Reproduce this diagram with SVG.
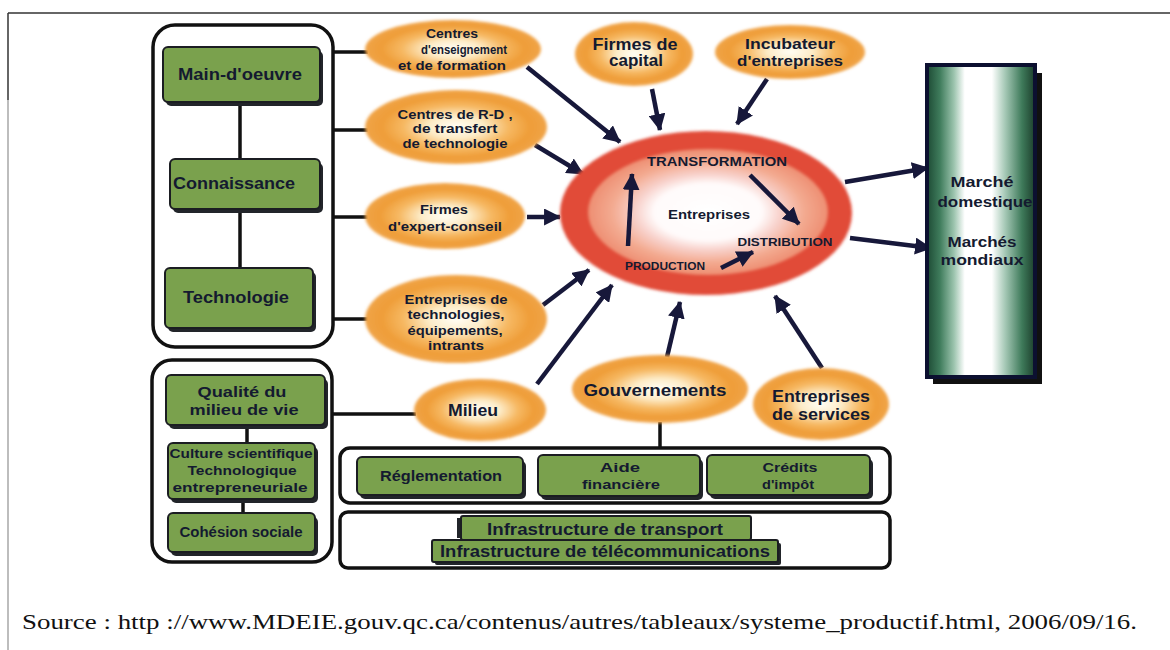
<svg xmlns="http://www.w3.org/2000/svg" width="1170" height="650" viewBox="0 0 1170 650">
<defs>
<style>
.t{font-family:"Liberation Sans",Arial,sans-serif;font-weight:bold;fill:#141a30;text-anchor:middle}
.gb{fill:#7aa14d;stroke:#1b1d22;stroke-width:2}
.sh{fill:#22252a}
.fr{fill:#fff;stroke:#111;stroke-width:3.5}
.ln{stroke:#111;stroke-width:3.5;fill:none}
.ar{stroke:#17183a;stroke-width:4.5;fill:none;marker-end:url(#ah)}
.ov{fill:url(#og);filter:url(#bl)}
</style>
<marker id="ah" viewBox="0 0 16 16" refX="15" refY="8" markerWidth="17" markerHeight="17" markerUnits="userSpaceOnUse" orient="auto">
<path d="M0,0 L16,8 L0,16 z" fill="#17183a"/>
</marker>
<radialGradient id="og" cx="50%" cy="50%" r="50%">
<stop offset="0" stop-color="#fffef6"/>
<stop offset="0.3" stop-color="#fdecc8"/>
<stop offset="0.58" stop-color="#f6b862"/>
<stop offset="0.82" stop-color="#ef9d38"/>
<stop offset="1" stop-color="#f0a448"/>
</radialGradient>
<radialGradient id="cg" cx="50%" cy="50%" r="50%">
<stop offset="0" stop-color="#ffffff"/>
<stop offset="0.45" stop-color="#fffafa"/>
<stop offset="0.6" stop-color="#f8d2cc"/>
<stop offset="0.8" stop-color="#f3aa90"/>
<stop offset="1" stop-color="#ee8e72"/>
</radialGradient>
<linearGradient id="mg" x1="0" y1="0" x2="1" y2="0">
<stop offset="0" stop-color="#1d4a34"/>
<stop offset="0.12" stop-color="#3f7c5c"/>
<stop offset="0.25" stop-color="#9cc4ae"/>
<stop offset="0.35" stop-color="#ffffff"/>
<stop offset="0.6" stop-color="#ffffff"/>
<stop offset="0.72" stop-color="#a8cab8"/>
<stop offset="0.88" stop-color="#3e7a5a"/>
<stop offset="1" stop-color="#1c3e2c"/>
</linearGradient>
<filter id="bl" x="-10%" y="-10%" width="120%" height="120%"><feGaussianBlur stdDeviation="1.5"/></filter>
</defs>

<g id="page-frame">
<line x1="8" y1="13" x2="1170" y2="13" stroke="#333" stroke-width="1.5"/>
<line x1="8" y1="13" x2="8" y2="100" stroke="#333" stroke-width="1.5"/>
<line x1="8" y1="100" x2="8" y2="650" stroke="#bdbdbd" stroke-width="2"/>
</g>

<g id="frames">
<rect class="fr" x="153" y="25" width="180" height="322" rx="22"/>
<rect class="fr" x="152" y="360" width="180" height="202" rx="20"/>
<rect class="fr" x="340" y="448" width="550" height="55" rx="10"/>
<rect class="fr" x="340" y="512" width="550" height="56" rx="8"/>
</g>

<g id="connectors">
<line class="ln" x1="240" y1="102" x2="240" y2="159"/>
<line class="ln" x1="240" y1="209" x2="240" y2="268"/>
<line class="ln" x1="247" y1="425" x2="247" y2="443"/>
<line class="ln" x1="243" y1="499" x2="243" y2="513"/>
<line class="ln" x1="333" y1="52" x2="368" y2="52"/>
<line class="ln" x1="333" y1="130" x2="368" y2="130"/>
<line class="ln" x1="333" y1="217" x2="368" y2="217"/>
<line class="ln" x1="333" y1="319" x2="368" y2="319"/>
<line class="ln" x1="332" y1="414" x2="416" y2="414" stroke-width="2.5"/>
<line class="ln" x1="660" y1="422" x2="660" y2="448"/>
<line class="ar" x1="527" y1="67" x2="620" y2="142"/>
<line class="ar" x1="652" y1="89" x2="660" y2="130"/>
<line class="ar" x1="767" y1="79" x2="737" y2="124"/>
<line class="ar" x1="535" y1="145" x2="583" y2="174"/>
<line class="ar" x1="527" y1="217" x2="560" y2="217"/>
<line class="ar" x1="543" y1="305" x2="589" y2="270"/>
<line class="ar" x1="537" y1="384" x2="612" y2="285"/>
<line class="ar" x1="667" y1="357" x2="680" y2="302"/>
<line class="ar" x1="822" y1="368" x2="775" y2="296"/>
<line class="ar" x1="845" y1="182" x2="928" y2="168"/>
<line class="ar" x1="850" y1="238" x2="931" y2="248"/>
</g>

<g id="left-boxes">
<g id="main-oeuvre"><rect class="sh" x="166" y="51" width="157" height="55" rx="5"/><rect class="gb" x="163" y="47" width="157" height="55" rx="5"/><text class="t" x="240" y="80" font-size="17" textLength="124" lengthAdjust="spacingAndGlyphs">Main-d'oeuvre</text></g>
<g id="connaissance"><rect class="sh" x="173" y="163" width="150" height="50" rx="5"/><rect class="gb" x="170" y="159" width="150" height="50" rx="5"/><text class="t" x="234" y="189" font-size="16" textLength="122" lengthAdjust="spacingAndGlyphs">Connaissance</text></g>
<g id="technologie"><rect class="sh" x="168" y="272" width="148" height="60" rx="5"/><rect class="gb" x="165" y="268" width="148" height="60" rx="5"/><text class="t" x="236" y="303" font-size="16" textLength="106" lengthAdjust="spacingAndGlyphs">Technologie</text></g>
<g id="qualite"><rect class="sh" x="169" y="379" width="159" height="50" rx="5"/><rect class="gb" x="166" y="375" width="159" height="50" rx="5"/><text class="t" x="242" y="397" font-size="15" textLength="89" lengthAdjust="spacingAndGlyphs">Qualité du</text><text class="t" x="244" y="415" font-size="15" textLength="109" lengthAdjust="spacingAndGlyphs">milieu de vie</text></g>
<g id="culture"><rect class="sh" x="171" y="447" width="147" height="56" rx="5"/><rect class="gb" x="168" y="443" width="147" height="56" rx="5"/><text class="t" x="241" y="458" font-size="13" textLength="143" lengthAdjust="spacingAndGlyphs">Culture scientifique</text><text class="t" x="242" y="475" font-size="13" textLength="109" lengthAdjust="spacingAndGlyphs">Technologique</text><text class="t" x="240" y="492" font-size="13" textLength="135" lengthAdjust="spacingAndGlyphs">entrepreneuriale</text></g>
<g id="cohesion"><rect class="sh" x="171" y="517" width="147" height="39" rx="5"/><rect class="gb" x="168" y="513" width="147" height="39" rx="5"/><text class="t" x="241" y="537" font-size="14" textLength="123" lengthAdjust="spacingAndGlyphs">Cohésion sociale</text></g>
</g>

<g id="bottom-boxes">
<g id="reglementation"><rect class="sh" x="360" y="461" width="166" height="38" rx="5"/><rect class="gb" x="357" y="457" width="166" height="38" rx="5"/><text class="t" x="441" y="481" font-size="14" textLength="122" lengthAdjust="spacingAndGlyphs">Réglementation</text></g>
<g id="aide"><rect class="sh" x="541" y="459" width="162" height="41" rx="5"/><rect class="gb" x="538" y="455" width="162" height="41" rx="5"/><text class="t" x="620" y="472" font-size="13" textLength="40" lengthAdjust="spacingAndGlyphs">Aide</text><text class="t" x="621" y="489" font-size="13" textLength="78" lengthAdjust="spacingAndGlyphs">financière</text></g>
<g id="credits"><rect class="sh" x="710" y="459" width="163" height="40" rx="5"/><rect class="gb" x="707" y="455" width="163" height="40" rx="5"/><text class="t" x="790" y="472" font-size="13" textLength="55" lengthAdjust="spacingAndGlyphs">Crédits</text><text class="t" x="788" y="489" font-size="13" textLength="52" lengthAdjust="spacingAndGlyphs">d'impôt</text></g>
<g id="infra-transport"><rect class="sh" x="457" y="518" width="6" height="20"/><rect class="gb" x="461" y="516" width="290" height="24" rx="2"/><text class="t" x="605" y="535" font-size="17" textLength="236" lengthAdjust="spacingAndGlyphs">Infrastructure de transport</text></g>
<g id="infra-telecom"><rect class="sh" x="435" y="543" width="346" height="22" rx="2"/><rect class="gb" x="432" y="540" width="346" height="22" rx="2"/><text class="t" x="605" y="557" font-size="17" textLength="330" lengthAdjust="spacingAndGlyphs">Infrastructure de télécommunications</text></g>
</g>

<g id="ellipses">
<g id="centres-enseignement"><ellipse class="ov" cx="453" cy="49" rx="88" ry="29"/><text class="t" x="452" y="38" font-size="12" textLength="52" lengthAdjust="spacingAndGlyphs">Centres</text><text class="t" x="464" y="54" font-size="12" textLength="86" lengthAdjust="spacingAndGlyphs">d'enseignement</text><text class="t" x="452" y="70" font-size="12" textLength="108" lengthAdjust="spacingAndGlyphs">et de formation</text></g>
<g id="firmes-capital"><ellipse class="ov" cx="634" cy="54" rx="59" ry="32"/><text class="t" x="635" y="50" font-size="16" textLength="85" lengthAdjust="spacingAndGlyphs">Firmes de</text><text class="t" x="636" y="66" font-size="16" textLength="54" lengthAdjust="spacingAndGlyphs">capital</text></g>
<g id="incubateur"><ellipse class="ov" cx="790" cy="52" rx="75" ry="27"/><text class="t" x="790" y="49" font-size="15" textLength="90" lengthAdjust="spacingAndGlyphs">Incubateur</text><text class="t" x="790" y="66" font-size="15" textLength="106" lengthAdjust="spacingAndGlyphs">d'entreprises</text></g>
<g id="centres-rd"><ellipse class="ov" cx="456" cy="127" rx="91" ry="37"/><text class="t" x="455" y="119" font-size="13" textLength="115" lengthAdjust="spacingAndGlyphs">Centres de R-D ,</text><text class="t" x="455" y="133" font-size="13" textLength="85" lengthAdjust="spacingAndGlyphs">de transfert</text><text class="t" x="455" y="148" font-size="13" textLength="105" lengthAdjust="spacingAndGlyphs">de technologie</text></g>
<g id="firmes-expert"><ellipse class="ov" cx="445" cy="216" rx="80" ry="33"/><text class="t" x="444" y="214" font-size="13" textLength="48" lengthAdjust="spacingAndGlyphs">Firmes</text><text class="t" x="445" y="231" font-size="13" textLength="114" lengthAdjust="spacingAndGlyphs">d'expert-conseil</text></g>
<g id="entreprises-technologies"><ellipse class="ov" cx="456" cy="319" rx="91" ry="44"/><text class="t" x="456" y="304" font-size="13" textLength="103" lengthAdjust="spacingAndGlyphs">Entreprises de</text><text class="t" x="456" y="319" font-size="13" textLength="97" lengthAdjust="spacingAndGlyphs">technologies,</text><text class="t" x="455" y="335" font-size="13" textLength="95" lengthAdjust="spacingAndGlyphs">équipements,</text><text class="t" x="456" y="350" font-size="13" textLength="56" lengthAdjust="spacingAndGlyphs">intrants</text></g>
<g id="milieu"><ellipse class="ov" cx="480" cy="410" rx="66" ry="31"/><text class="t" x="473" y="416" font-size="17" textLength="50" lengthAdjust="spacingAndGlyphs">Milieu</text></g>
<g id="gouvernements"><ellipse class="ov" cx="660" cy="389" rx="88" ry="34"/><text class="t" x="655" y="396" font-size="17" textLength="143" lengthAdjust="spacingAndGlyphs">Gouvernements</text></g>
<g id="entreprises-services"><ellipse class="ov" cx="821" cy="404" rx="68" ry="36"/><text class="t" x="821" y="402" font-size="17" textLength="98" lengthAdjust="spacingAndGlyphs">Entreprises</text><text class="t" x="821" y="420" font-size="17" textLength="98" lengthAdjust="spacingAndGlyphs">de services</text></g>
</g>

<g id="entreprises-core">
<ellipse cx="706" cy="213" rx="146" ry="82" fill="#e14c38" filter="url(#bl)"/>
<ellipse cx="708" cy="212" rx="120" ry="63" fill="url(#cg)" filter="url(#bl)"/>
<text class="t" x="717" y="166" font-size="12" fill="#2a1420" textLength="140" lengthAdjust="spacingAndGlyphs">TRANSFORMATION</text>
<text class="t" x="709" y="219" font-size="13" textLength="82" lengthAdjust="spacingAndGlyphs">Entreprises</text>
<text class="t" x="785" y="246" font-size="11" textLength="95" lengthAdjust="spacingAndGlyphs">DISTRIBUTION</text>
<text class="t" x="665" y="270" font-size="11" fill="#3a1424" textLength="80" lengthAdjust="spacingAndGlyphs">PRODUCTION</text>
<line class="ar" x1="628" y1="246" x2="632" y2="174"/>
<line class="ar" x1="750" y1="175" x2="799" y2="224"/>
<line class="ar" x1="721" y1="268" x2="753" y2="252"/>
</g>

<g id="marches">
<rect x="933" y="73" width="109" height="311" fill="#111"/>
<rect x="927" y="65" width="108" height="312" fill="url(#mg)" stroke="#0c1030" stroke-width="4"/>
<text class="t" x="982" y="187" font-size="14" fill="#101840" textLength="63" lengthAdjust="spacingAndGlyphs">Marché</text>
<text class="t" x="985" y="207" font-size="14" fill="#101840" textLength="95" lengthAdjust="spacingAndGlyphs">domestique</text>
<text class="t" x="982" y="247" font-size="14" fill="#101840" textLength="69" lengthAdjust="spacingAndGlyphs">Marchés</text>
<text class="t" x="982" y="265" font-size="14" fill="#101840" textLength="83" lengthAdjust="spacingAndGlyphs">mondiaux</text>
</g>

<g id="source">
<text x="22" y="629" font-family="Liberation Serif,'Times New Roman',serif" font-size="21" fill="#111" textLength="1115" lengthAdjust="spacingAndGlyphs">Source : http ://www.MDEIE.gouv.qc.ca/contenus/autres/tableaux/systeme_productif.html, 2006/09/16.</text>
</g>
</svg>
